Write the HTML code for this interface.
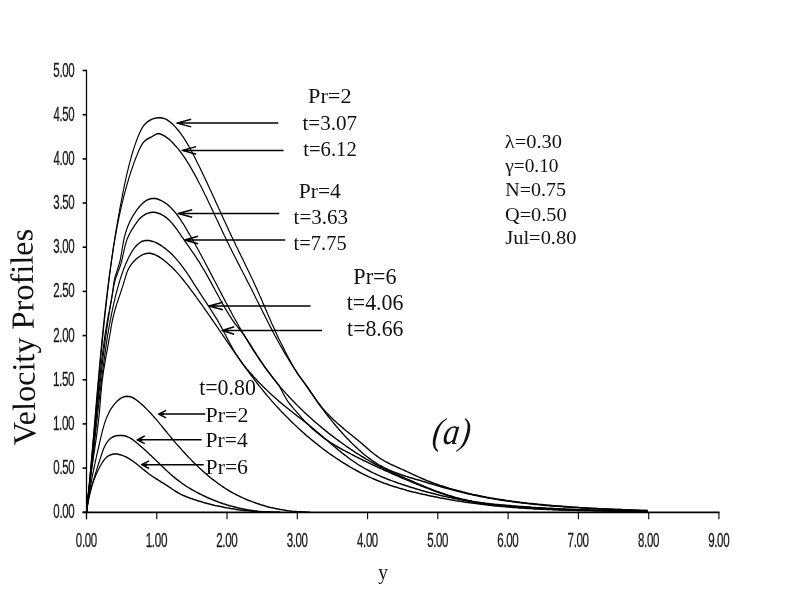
<!DOCTYPE html>
<html><head><meta charset="utf-8"><title>Velocity Profiles</title>
<style>html,body{margin:0;padding:0;background:#fff;}body{width:789px;height:613px;overflow:hidden;}svg{display:block;will-change:transform;}</style>
</head><body>
<svg width="789" height="613" viewBox="0 0 789 613">
<rect width="789" height="613" fill="#fff"/>
<g stroke="#000" stroke-width="1.7" fill="none"><line stroke-width="1.25" x1="86.5" y1="69.7" x2="86.5" y2="519.2"/><line x1="82.6" y1="512.3" x2="719.5" y2="512.3"/><line stroke-width="1.6" x1="82.6" y1="512.3" x2="86.5" y2="512.3"/><line stroke-width="1.6" x1="82.6" y1="468.1" x2="86.5" y2="468.1"/><line stroke-width="1.6" x1="82.6" y1="423.9" x2="86.5" y2="423.9"/><line stroke-width="1.6" x1="82.6" y1="379.8" x2="86.5" y2="379.8"/><line stroke-width="1.6" x1="82.6" y1="335.6" x2="86.5" y2="335.6"/><line stroke-width="1.6" x1="82.6" y1="291.4" x2="86.5" y2="291.4"/><line stroke-width="1.6" x1="82.6" y1="247.2" x2="86.5" y2="247.2"/><line stroke-width="1.6" x1="82.6" y1="203.0" x2="86.5" y2="203.0"/><line stroke-width="1.6" x1="82.6" y1="158.9" x2="86.5" y2="158.9"/><line stroke-width="1.6" x1="82.6" y1="114.7" x2="86.5" y2="114.7"/><line stroke-width="1.6" x1="82.6" y1="70.5" x2="86.5" y2="70.5"/><line stroke-width="1.1" x1="86.5" y1="512.3" x2="86.5" y2="519.2"/><line stroke-width="1.1" x1="156.8" y1="512.3" x2="156.8" y2="519.2"/><line stroke-width="1.1" x1="227.0" y1="512.3" x2="227.0" y2="519.2"/><line stroke-width="1.1" x1="297.3" y1="512.3" x2="297.3" y2="519.2"/><line stroke-width="1.1" x1="367.6" y1="512.3" x2="367.6" y2="519.2"/><line stroke-width="1.1" x1="437.8" y1="512.3" x2="437.8" y2="519.2"/><line stroke-width="1.1" x1="508.1" y1="512.3" x2="508.1" y2="519.2"/><line stroke-width="1.1" x1="578.4" y1="512.3" x2="578.4" y2="519.2"/><line stroke-width="1.1" x1="648.7" y1="512.3" x2="648.7" y2="519.2"/><line stroke-width="1.1" x1="718.9" y1="512.3" x2="718.9" y2="519.2"/></g>
<g font-family="Liberation Sans, sans-serif" font-size="19.3" fill="#1a1a1a" stroke="#1a1a1a" stroke-width="0.3" letter-spacing="-0.6"><text transform="translate(53.35,518.30) scale(0.596,1)">0.00</text><text transform="translate(53.35,474.12) scale(0.596,1)">0.50</text><text transform="translate(52.89,429.94) scale(0.609,1)">1.00</text><text transform="translate(52.89,385.76) scale(0.609,1)">1.50</text><text transform="translate(53.20,341.58) scale(0.600,1)">2.00</text><text transform="translate(53.20,297.40) scale(0.600,1)">2.50</text><text transform="translate(53.35,253.22) scale(0.596,1)">3.00</text><text transform="translate(53.35,209.04) scale(0.596,1)">3.50</text><text transform="translate(53.50,164.86) scale(0.591,1)">4.00</text><text transform="translate(53.50,120.68) scale(0.591,1)">4.50</text><text transform="translate(53.35,76.50) scale(0.596,1)">5.00</text><text transform="translate(75.85,546.6) scale(0.596,1)">0.00</text><text transform="translate(145.66,546.6) scale(0.609,1)">1.00</text><text transform="translate(216.24,546.6) scale(0.600,1)">2.00</text><text transform="translate(286.66,546.6) scale(0.596,1)">3.00</text><text transform="translate(357.08,546.6) scale(0.591,1)">4.00</text><text transform="translate(427.20,546.6) scale(0.596,1)">5.00</text><text transform="translate(497.32,546.6) scale(0.600,1)">6.00</text><text transform="translate(567.59,546.6) scale(0.600,1)">7.00</text><text transform="translate(638.01,546.6) scale(0.596,1)">8.00</text><text transform="translate(708.13,546.6) scale(0.600,1)">9.00</text></g>
<g transform="scale(0.75,1)" stroke="#000" stroke-width="1.5" fill="none" stroke-linejoin="round"><path d="M115.3 512.3L115.6 510.3 115.9 508.3 116.1 506.3 116.4 504.3 116.7 502.4 116.9 500.4 117.2 498.4 117.4 496.4 117.7 494.4 118.0 492.4 118.2 490.4 118.5 488.4 118.7 486.5 119.0 484.5 119.2 482.5 119.5 480.5 119.7 478.5 119.9 476.5 120.2 474.5 120.4 472.5 120.7 470.5 120.9 468.6 121.1 466.6 121.4 464.6 121.6 462.6 121.8 460.6 122.1 458.6 122.3 456.6 122.5 454.6 122.8 452.6 123.0 450.7 123.2 448.7 123.4 446.7 123.7 444.7 123.9 442.7 124.1 440.7 124.4 438.7 124.6 436.7 124.8 434.7 125.0 432.7 125.3 430.8 125.5 428.8 125.7 426.8 125.9 424.8 126.2 422.8 126.4 420.8 126.6 418.8 126.8 416.8 127.0 414.8 127.3 412.9 127.5 410.9 127.7 408.9 127.9 406.9 128.2 404.9 128.4 402.9 128.6 400.9 128.8 398.9 129.1 396.9 129.3 395.0 129.5 393.0 129.8 391.0 130.0 389.0 130.2 387.0 130.5 385.0 130.7 383.0 130.9 381.0 131.2 379.1 131.4 377.1 131.6 375.1 131.9 373.1 132.1 371.1 132.3 369.1 132.6 367.1 132.8 365.1 133.1 363.1 133.3 361.2 133.6 359.2 133.8 357.2 134.1 355.2 134.3 353.2 134.6 351.2 134.8 349.2 135.1 347.3 135.3 345.3 135.6 343.3 135.8 341.3 136.1 339.3 136.4 337.3 136.6 335.3 136.9 333.3 137.2 331.4 137.5 329.4 137.7 327.4 138.0 325.4 138.3 323.4 138.6 321.4 138.9 319.5 139.1 317.5 139.4 315.5 139.7 313.5 140.0 311.5 140.3 309.5 140.6 307.5 140.9 305.6 141.2 303.6 141.5 301.6 141.8 299.6 142.1 297.6 142.5 295.6 142.8 293.7 143.1 291.7 143.4 289.7 143.8 287.7 144.1 285.7 144.4 283.8 144.8 281.8 145.1 279.8 145.4 277.8 145.8 275.8 146.1 273.8 146.5 271.9 146.9 269.9 147.2 267.9 147.6 265.9 148.0 263.9 148.3 262.0 148.7 260.0 149.1 258.0 149.5 256.0 149.9 254.1 150.2 252.1 150.6 250.1 151.0 248.1 151.4 246.2 151.8 244.2 152.3 242.2 152.7 240.2 153.1 238.3 153.5 236.3 153.9 234.3 154.4 232.3 154.8 230.4 155.2 228.4 155.7 226.4 156.1 224.5 156.6 222.5 157.0 220.5 157.5 218.6 157.9 216.6 158.4 214.6 158.9 212.7 159.3 210.7 159.8 208.7 160.3 206.8 160.8 204.8 161.3 202.9 161.8 200.9 162.3 199.0 162.8 197.0 163.3 195.0 163.8 193.1 164.3 191.1 164.9 189.2 165.4 187.2 165.9 185.3 166.5 183.3 167.0 181.4 167.6 179.4 168.2 177.5 168.7 175.5 169.3 173.6 169.9 171.7 170.6 169.7 171.2 167.8 171.8 165.9 172.5 163.9 173.2 162.0 173.9 160.1 174.6 158.1 175.3 156.2 176.0 154.3 176.8 152.4 177.6 150.4 178.4 148.5 179.2 146.6 180.1 144.7 181.0 142.8 181.9 140.9 182.8 139.0 183.8 137.2 184.8 135.3 185.9 133.5 187.0 131.7 188.1 129.9 189.3 128.2 190.7 126.6 192.2 125.0 194.0 123.6 196.0 122.2 198.2 121.0 200.5 120.0 203.0 119.1 205.6 118.4 208.3 117.9 211.0 117.7 213.6 117.7 216.1 117.9 218.5 118.4 220.9 119.1 223.1 120.0 225.3 121.1 227.4 122.3 229.4 123.6 231.3 125.0 233.2 126.5 235.0 128.0 236.8 129.6 238.5 131.1 240.1 132.7 241.7 134.3 243.2 136.0 244.7 137.6 246.2 139.3 247.6 141.0 249.0 142.7 250.3 144.4 251.7 146.1 253.0 147.9 254.2 149.6 255.5 151.4 256.7 153.2 258.0 154.9 259.2 156.7 260.4 158.5 261.6 160.3 262.8 162.1 263.9 163.8 265.1 165.6 266.3 167.4 267.4 169.2 268.6 171.0 269.8 172.8 270.9 174.6 272.0 176.4 273.2 178.2 274.3 180.0 275.5 181.8 276.6 183.6 277.7 185.5 278.8 187.3 279.9 189.1 281.1 190.9 282.2 192.7 283.3 194.5 284.4 196.3 285.5 198.1 286.6 200.0 287.7 201.8 288.8 203.6 289.9 205.4 291.0 207.2 292.1 209.1 293.2 210.9 294.3 212.7 295.4 214.5 296.5 216.3 297.6 218.1 298.7 220.0 299.9 221.8 301.0 223.6 302.1 225.4 303.2 227.2 304.3 229.0 305.4 230.8 306.6 232.6 307.7 234.5 308.8 236.3 310.0 238.1 311.1 239.9 312.2 241.7 313.4 243.5 314.5 245.3 315.7 247.1 316.9 248.9 318.0 250.7 319.2 252.5 320.4 254.3 321.5 256.1 322.7 257.8 323.9 259.6 325.0 261.4 326.2 263.2 327.3 265.0 328.5 266.8 329.7 268.6 330.8 270.4 332.0 272.2 333.1 274.0 334.3 275.8 335.4 277.6 336.6 279.4 337.7 281.2 338.8 283.0 339.9 284.8 341.0 286.7 342.2 288.5 343.3 290.3 344.3 292.1 345.4 293.9 346.5 295.8 347.6 297.6 348.6 299.4 349.7 301.3 350.7 303.1 351.8 304.9 352.8 306.8 353.9 308.6 354.9 310.4 356.0 312.3 357.0 314.1 358.1 315.9 359.1 317.8 360.2 319.6 361.2 321.4 362.3 323.3 363.4 325.1 364.5 326.9 365.6 328.7 366.7 330.5 367.8 332.3 368.9 334.2 370.0 336.0 371.2 337.8 372.3 339.6 373.5 341.4 374.7 343.1 375.9 344.9 377.1 346.7 378.3 348.5 379.5 350.3 380.7 352.1 381.9 353.8 383.1 355.6 384.4 357.4 385.6 359.1 386.9 360.9 388.1 362.7 389.4 364.4 390.7 366.2 392.0 367.9 393.3 369.6 394.7 371.3 396.1 373.0 397.6 374.7 399.1 376.3 400.7 377.9 402.3 379.5 404.0 381.0 405.6 382.6 407.2 384.2 408.8 385.8 410.4 387.4 411.9 389.1 413.5 390.7 414.9 392.4 416.4 394.0 417.9 395.7 419.4 397.3 420.9 399.0 422.4 400.6 424.0 402.2 425.6 403.8 427.2 405.4 428.8 407.0 430.5 408.5 432.3 410.0 434.0 411.5 435.8 413.0 437.7 414.4 439.5 415.9 441.4 417.3 443.3 418.7 445.2 420.1 447.2 421.4 449.2 422.8 451.2 424.1 453.2 425.4 455.2 426.7 457.2 428.0 459.3 429.3 461.3 430.6 463.4 431.8 465.5 433.1 467.5 434.4 469.6 435.6 471.7 436.9 473.7 438.1 475.8 439.4 477.8 440.6 479.9 441.9 481.9 443.2 483.9 444.5 485.9 445.8 488.0 447.2 490.0 448.5 492.0 449.8 494.0 451.1 496.1 452.4 498.2 453.6 500.2 454.8 502.4 456.0 504.5 457.2 506.7 458.3 509.0 459.4 511.2 460.4 513.5 461.4 515.9 462.3 518.3 463.2 520.6 464.1 523.1 465.0 525.5 465.8 527.9 466.6 530.3 467.5 532.8 468.3 535.2 469.1 537.7 469.9 540.1 470.7 542.5 471.6 544.9 472.4 547.4 473.3 549.8 474.1 552.2 475.0 554.6 475.8 557.0 476.6 559.5 477.4 561.9 478.2 564.3 479.0 566.8 479.8 569.2 480.6 571.7 481.3 574.2 482.0 576.7 482.7 579.2 483.4 581.7 484.1 584.2 484.7 586.7 485.4 589.3 486.0 591.8 486.6 594.3 487.2 596.9 487.8 599.4 488.4 602.0 488.9 604.6 489.5 607.1 490.0 609.7 490.6 612.3 491.1 614.8 491.6 617.4 492.1 620.0 492.5 622.6 493.0 625.2 493.5 627.8 493.9 630.4 494.4 633.0 494.8 635.6 495.2 638.2 495.6 640.8 496.0 643.4 496.4 646.0 496.8 648.6 497.2 651.2 497.5 653.8 497.9 656.5 498.2 659.1 498.6 661.7 498.9 664.3 499.2 667.0 499.5 669.6 499.8 672.2 500.1 674.9 500.4 677.5 500.7 680.1 501.0 682.8 501.3 685.4 501.5 688.1 501.8 690.7 502.0 693.3 502.3 696.0 502.5 698.6 502.7 701.3 503.0 703.9 503.2 706.6 503.4 709.2 503.6 711.9 503.8 714.5 504.0 717.2 504.2 719.8 504.4 722.5 504.6 725.2 504.8 727.8 505.0 730.5 505.2 733.1 505.3 735.8 505.5 738.4 505.7 741.1 505.8 743.7 506.0 746.4 506.1 749.0 506.3 751.7 506.5 754.3 506.6 757.0 506.8 759.7 506.9 762.3 507.0 765.0 507.2 767.6 507.3 770.3 507.4 772.9 507.6 775.6 507.7 778.2 507.8 780.9 507.9 783.5 508.1 786.2 508.2 788.9 508.3 791.5 508.4 794.2 508.5 796.8 508.6 799.5 508.7 802.1 508.8 804.8 508.9 807.4 509.0 810.1 509.1 812.8 509.2 815.4 509.3 818.1 509.4 820.7 509.5 823.4 509.6 826.1 509.6 828.7 509.7 831.4 509.8 834.0 509.9 836.7 510.0 839.4 510.0 842.0 510.1 844.7 510.2 847.3 510.2 850.0 510.3 852.7 510.4 855.3 510.4 858.0 510.5 860.7 510.5 863.3 510.6"/><path d="M115.3 512.3L115.6 510.3 115.9 508.3 116.2 506.3 116.4 504.3 116.7 502.3 117.0 500.3 117.2 498.4 117.5 496.4 117.8 494.4 118.0 492.4 118.3 490.4 118.6 488.4 118.8 486.4 119.1 484.4 119.3 482.4 119.6 480.4 119.8 478.4 120.1 476.4 120.3 474.5 120.6 472.5 120.8 470.5 121.1 468.5 121.3 466.5 121.6 464.5 121.8 462.5 122.1 460.5 122.3 458.5 122.5 456.5 122.8 454.5 123.0 452.6 123.3 450.6 123.5 448.6 123.7 446.6 124.0 444.6 124.2 442.6 124.4 440.6 124.7 438.6 124.9 436.6 125.1 434.6 125.4 432.6 125.6 430.7 125.8 428.7 126.1 426.7 126.3 424.7 126.5 422.7 126.8 420.7 127.0 418.7 127.2 416.7 127.5 414.7 127.7 412.7 127.9 410.7 128.1 408.8 128.4 406.8 128.6 404.8 128.8 402.8 129.1 400.8 129.3 398.8 129.5 396.8 129.8 394.8 130.0 392.8 130.2 390.8 130.5 388.9 130.7 386.9 130.9 384.9 131.2 382.9 131.4 380.9 131.7 378.9 131.9 376.9 132.1 374.9 132.4 372.9 132.6 370.9 132.9 369.0 133.1 367.0 133.4 365.0 133.6 363.0 133.8 361.0 134.1 359.0 134.3 357.0 134.6 355.0 134.8 353.0 135.1 351.0 135.3 349.1 135.6 347.1 135.9 345.1 136.1 343.1 136.4 341.1 136.6 339.1 136.9 337.1 137.2 335.1 137.4 333.1 137.7 331.2 138.0 329.2 138.2 327.2 138.5 325.2 138.8 323.2 139.1 321.2 139.3 319.2 139.6 317.2 139.9 315.2 140.2 313.3 140.5 311.3 140.8 309.3 141.1 307.3 141.4 305.3 141.7 303.3 142.0 301.3 142.3 299.3 142.6 297.3 142.9 295.4 143.2 293.4 143.5 291.4 143.8 289.4 144.1 287.4 144.4 285.4 144.8 283.4 145.1 281.4 145.4 279.5 145.8 277.5 146.1 275.5 146.4 273.5 146.8 271.5 147.1 269.5 147.5 267.5 147.8 265.6 148.2 263.6 148.6 261.6 148.9 259.6 149.3 257.6 149.7 255.6 150.1 253.7 150.5 251.7 150.9 249.7 151.3 247.7 151.7 245.7 152.2 243.8 152.6 241.8 153.0 239.8 153.5 237.9 153.9 235.9 154.4 233.9 154.9 232.0 155.3 230.0 155.8 228.0 156.3 226.1 156.8 224.1 157.3 222.1 157.9 220.2 158.4 218.2 158.9 216.3 159.5 214.3 160.1 212.4 160.6 210.4 161.2 208.5 161.8 206.5 162.4 204.6 163.0 202.6 163.7 200.7 164.3 198.8 164.9 196.8 165.6 194.9 166.3 193.0 167.0 191.0 167.7 189.1 168.4 187.2 169.1 185.3 169.8 183.4 170.6 181.5 171.3 179.5 172.1 177.6 172.9 175.7 173.7 173.8 174.5 171.9 175.4 170.0 176.2 168.1 177.1 166.2 177.9 164.4 178.8 162.5 179.8 160.6 180.7 158.7 181.7 156.8 182.7 155.0 183.7 153.1 184.8 151.2 185.9 149.4 187.0 147.5 188.3 145.7 189.6 144.0 191.2 142.4 192.9 141.0 194.9 139.8 197.2 138.7 199.5 137.8 202.0 136.9 204.3 135.9 206.6 134.9 208.9 134.0 211.2 133.6 213.7 134.0 216.2 134.8 218.7 135.8 221.0 136.8 223.2 138.0 225.3 139.2 227.3 140.5 229.2 141.9 231.0 143.3 232.8 144.8 234.6 146.3 236.3 147.8 238.0 149.3 239.6 150.9 241.2 152.5 242.8 154.1 244.3 155.7 245.8 157.3 247.3 159.0 248.8 160.7 250.2 162.4 251.6 164.1 253.0 165.8 254.3 167.5 255.7 169.2 257.0 171.0 258.3 172.7 259.6 174.5 260.9 176.3 262.1 178.0 263.4 179.8 264.6 181.6 265.8 183.4 267.1 185.1 268.3 186.9 269.5 188.7 270.7 190.5 271.9 192.3 273.0 194.1 274.2 195.9 275.4 197.7 276.5 199.5 277.7 201.3 278.8 203.1 280.0 204.9 281.1 206.7 282.3 208.5 283.4 210.3 284.5 212.1 285.6 213.9 286.8 215.8 287.9 217.6 289.0 219.4 290.2 221.2 291.3 223.0 292.4 224.8 293.5 226.6 294.7 228.4 295.8 230.2 296.9 232.0 298.1 233.8 299.2 235.6 300.4 237.4 301.5 239.2 302.7 241.0 303.9 242.8 305.1 244.6 306.2 246.4 307.4 248.2 308.6 250.0 309.8 251.8 311.0 253.6 312.2 255.3 313.4 257.1 314.6 258.9 315.8 260.7 317.0 262.5 318.3 264.2 319.5 266.0 320.7 267.8 321.9 269.6 323.1 271.3 324.3 273.1 325.6 274.9 326.8 276.7 328.0 278.5 329.2 280.2 330.4 282.0 331.6 283.8 332.9 285.6 334.1 287.4 335.3 289.2 336.5 290.9 337.7 292.7 338.9 294.5 340.1 296.3 341.2 298.1 342.4 299.9 343.6 301.7 344.8 303.5 346.0 305.3 347.2 307.1 348.4 308.9 349.6 310.7 350.8 312.5 352.0 314.2 353.2 316.0 354.4 317.8 355.6 319.6 356.8 321.4 358.0 323.2 359.2 325.0 360.4 326.7 361.7 328.5 362.9 330.3 364.1 332.1 365.4 333.8 366.6 335.6 367.9 337.3 369.2 339.1 370.4 340.9 371.7 342.6 373.0 344.4 374.3 346.1 375.6 347.8 377.0 349.6 378.3 351.3 379.6 353.0 381.0 354.7 382.4 356.4 383.7 358.1 385.1 359.8 386.5 361.5 388.0 363.2 389.4 364.9 390.8 366.6 392.3 368.2 393.8 369.9 395.3 371.6 396.7 373.2 398.2 374.9 399.7 376.5 401.3 378.2 402.8 379.8 404.3 381.4 405.8 383.1 407.3 384.7 408.8 386.4 410.4 388.0 411.9 389.7 413.4 391.4 414.9 393.0 416.4 394.7 417.9 396.3 419.5 397.9 421.0 399.6 422.5 401.2 424.1 402.9 425.6 404.5 427.2 406.1 428.8 407.7 430.4 409.3 432.0 410.9 433.6 412.5 435.2 414.1 436.8 415.6 438.5 417.2 440.1 418.7 441.8 420.3 443.4 421.8 445.1 423.4 446.8 424.9 448.5 426.4 450.3 427.9 452.0 429.4 453.8 430.9 455.5 432.4 457.3 433.9 459.1 435.4 461.0 436.8 462.8 438.3 464.7 439.7 466.5 441.2 468.4 442.6 470.3 444.0 472.2 445.4 474.2 446.8 476.2 448.2 478.1 449.6 480.1 450.9 482.2 452.3 484.2 453.6 486.3 454.8 488.4 456.1 490.5 457.3 492.6 458.5 494.8 459.7 496.9 460.8 499.1 461.9 501.4 463.0 503.6 464.1 505.9 465.1 508.2 466.0 510.5 467.0 512.9 467.9 515.3 468.7 517.7 469.6 520.1 470.4 522.5 471.2 525.0 471.9 527.4 472.6 529.9 473.3 532.4 474.0 534.9 474.7 537.5 475.3 540.0 475.9 542.5 476.6 545.1 477.2 547.6 477.7 550.2 478.3 552.8 478.9 555.4 479.5 557.9 480.0 560.5 480.6 563.1 481.2 565.7 481.7 568.2 482.3 570.8 482.9 573.4 483.4 575.9 484.0 578.5 484.6 581.1 485.2 583.6 485.7 586.2 486.3 588.7 486.9 591.3 487.4 593.9 488.0 596.4 488.5 599.0 489.1 601.6 489.6 604.1 490.1 606.7 490.6 609.3 491.1 611.9 491.6 614.5 492.1 617.0 492.6 619.6 493.0 622.2 493.5 624.8 493.9 627.4 494.3 630.0 494.8 632.6 495.2 635.2 495.6 637.8 496.0 640.4 496.4 643.0 496.8 645.6 497.1 648.3 497.5 650.9 497.9 653.5 498.2 656.1 498.6 658.7 498.9 661.4 499.2 664.0 499.6 666.6 499.9 669.3 500.2 671.9 500.5 674.5 500.8 677.2 501.1 679.8 501.3 682.4 501.6 685.1 501.9 687.7 502.1 690.4 502.4 693.0 502.6 695.6 502.9 698.3 503.1 700.9 503.3 703.6 503.6 706.2 503.8 708.9 504.0 711.5 504.2 714.2 504.4 716.9 504.6 719.5 504.8 722.2 505.0 724.8 505.2 727.5 505.4 730.2 505.5 732.8 505.7 735.5 505.9 738.1 506.0 740.8 506.2 743.5 506.3 746.1 506.5 748.8 506.6 751.5 506.8 754.1 506.9 756.8 507.0 759.5 507.2 762.1 507.3 764.8 507.4 767.5 507.5 770.1 507.6 772.8 507.7 775.5 507.9 778.1 508.0 780.8 508.1 783.5 508.2 786.1 508.3 788.8 508.4 791.5 508.5 794.1 508.6 796.8 508.7 799.5 508.7 802.2 508.8 804.8 508.9 807.5 509.0 810.2 509.1 812.8 509.2 815.5 509.2 818.1 509.3 820.8 509.4 823.5 509.5 826.1 509.6 828.8 509.6 831.5 509.7 834.1 509.8 836.8 509.9 839.4 509.9 842.1 510.0 844.8 510.1 847.4 510.2 850.1 510.2 852.7 510.3 855.4 510.4 858.0 510.4 860.7 510.5 863.3 510.6"/><path d="M115.3 512.3L115.6 510.3 115.9 508.3 116.2 506.3 116.5 504.4 116.8 502.4 117.1 500.4 117.4 498.4 117.6 496.4 117.9 494.4 118.2 492.4 118.5 490.5 118.7 488.5 119.0 486.5 119.3 484.5 119.5 482.5 119.8 480.5 120.1 478.5 120.3 476.5 120.6 474.5 120.9 472.6 121.1 470.6 121.4 468.6 121.6 466.6 121.9 464.6 122.1 462.6 122.4 460.6 122.6 458.6 122.9 456.7 123.1 454.7 123.4 452.7 123.6 450.7 123.9 448.7 124.1 446.7 124.4 444.7 124.6 442.7 124.9 440.7 125.1 438.7 125.4 436.8 125.6 434.8 125.9 432.8 126.1 430.8 126.4 428.8 126.6 426.8 126.9 424.8 127.1 422.8 127.4 420.8 127.6 418.9 127.9 416.9 128.1 414.9 128.4 412.9 128.6 410.9 128.9 408.9 129.1 406.9 129.4 404.9 129.7 403.0 129.9 401.0 130.2 399.0 130.4 397.0 130.7 395.0 131.0 393.0 131.2 391.0 131.5 389.0 131.8 387.0 132.1 385.1 132.3 383.1 132.6 381.1 132.9 379.1 133.2 377.1 133.5 375.1 133.8 373.1 134.0 371.2 134.3 369.2 134.6 367.2 134.9 365.2 135.2 363.2 135.5 361.2 135.8 359.2 136.1 357.3 136.5 355.3 136.8 353.3 137.1 351.3 137.4 349.3 137.8 347.3 138.1 345.4 138.5 343.4 138.8 341.4 139.2 339.4 139.5 337.5 139.9 335.5 140.3 333.5 140.7 331.5 141.1 329.6 141.6 327.6 142.0 325.6 142.5 323.7 142.9 321.7 143.4 319.7 143.9 317.8 144.4 315.8 144.9 313.9 145.5 311.9 146.0 309.9 146.5 308.0 147.0 306.0 147.5 304.1 148.0 302.1 148.5 300.1 149.0 298.2 149.4 296.2 149.8 294.2 150.2 292.2 150.6 290.2 150.9 288.3 151.2 286.3 151.5 284.3 151.9 282.3 152.4 280.3 153.0 278.4 153.6 276.5 154.4 274.6 155.2 272.7 156.1 270.8 156.9 268.9 157.7 267.0 158.5 265.1 159.2 263.2 159.9 261.2 160.5 259.3 161.0 257.3 161.5 255.3 161.9 253.4 162.4 251.4 162.8 249.4 163.2 247.4 163.7 245.4 164.1 243.5 164.6 241.5 165.2 239.6 165.7 237.6 166.4 235.7 167.1 233.8 167.8 231.9 168.6 230.1 169.5 228.2 170.4 226.4 171.4 224.6 172.5 222.7 173.6 220.9 174.8 219.2 176.1 217.4 177.4 215.6 178.9 213.9 180.4 212.2 181.9 210.5 183.6 208.8 185.4 207.1 187.2 205.6 189.1 204.1 191.1 202.7 193.2 201.5 195.3 200.4 197.6 199.5 199.9 198.9 202.3 198.5 204.7 198.4 207.3 198.6 209.9 199.1 212.4 199.7 215.0 200.6 217.5 201.6 219.8 202.7 222.1 203.9 224.2 205.2 226.2 206.5 228.1 207.9 229.9 209.3 231.7 210.8 233.4 212.3 235.0 213.8 236.6 215.4 238.2 217.0 239.7 218.6 241.2 220.2 242.6 221.9 244.1 223.6 245.5 225.3 246.9 227.0 248.2 228.7 249.6 230.4 250.9 232.2 252.3 233.9 253.6 235.6 254.9 237.4 256.3 239.1 257.6 240.8 258.9 242.6 260.2 244.3 261.5 246.1 262.8 247.8 264.1 249.6 265.4 251.3 266.6 253.1 267.9 254.8 269.2 256.6 270.4 258.4 271.7 260.1 272.9 261.9 274.2 263.7 275.4 265.4 276.7 267.2 277.9 269.0 279.1 270.7 280.4 272.5 281.6 274.3 282.8 276.0 284.1 277.8 285.3 279.6 286.5 281.4 287.8 283.1 289.0 284.9 290.2 286.7 291.4 288.4 292.7 290.2 293.9 292.0 295.1 293.7 296.4 295.5 297.6 297.3 298.8 299.0 300.1 300.8 301.3 302.6 302.6 304.3 303.8 306.1 305.1 307.8 306.3 309.6 307.6 311.3 308.9 313.1 310.1 314.9 311.4 316.6 312.7 318.4 314.0 320.1 315.3 321.8 316.6 323.6 317.9 325.3 319.2 327.1 320.5 328.8 321.8 330.5 323.2 332.3 324.5 334.0 325.9 335.7 327.2 337.4 328.6 339.1 330.0 340.9 331.4 342.6 332.8 344.3 334.2 346.0 335.6 347.7 337.0 349.4 338.5 351.1 339.9 352.7 341.4 354.4 342.9 356.1 344.3 357.7 345.8 359.4 347.3 361.1 348.9 362.7 350.4 364.3 351.9 366.0 353.5 367.6 355.1 369.2 356.6 370.8 358.2 372.4 359.8 374.0 361.5 375.6 363.1 377.2 364.7 378.8 366.4 380.3 368.1 381.9 369.8 383.4 371.5 384.9 373.2 386.5 374.9 388.0 376.7 389.5 378.4 391.0 380.2 392.5 381.9 394.0 383.7 395.4 385.5 396.9 387.4 398.4 389.2 399.8 391.0 401.2 392.9 402.7 394.7 404.1 396.6 405.5 398.5 406.9 400.4 408.3 402.3 409.7 404.2 411.1 406.1 412.5 408.1 413.8 410.0 415.2 412.0 416.5 414.0 417.9 415.9 419.2 417.9 420.5 419.9 421.8 422.0 423.1 424.0 424.4 426.0 425.7 428.1 427.0 430.1 428.3 432.2 429.5 434.3 430.8 436.3 432.0 438.4 433.3 440.5 434.5 442.6 435.7 444.8 437.0 446.9 438.2 449.0 439.4 451.2 440.5 453.3 441.7 455.5 442.9 457.7 444.1 459.8 445.2 462.0 446.4 464.2 447.5 466.4 448.6 468.6 449.8 470.9 450.9 473.1 452.0 475.3 453.1 477.6 454.1 479.8 455.2 482.1 456.3 484.4 457.3 486.7 458.3 488.9 459.4 491.2 460.4 493.6 461.4 495.9 462.3 498.2 463.3 500.5 464.3 502.9 465.2 505.3 466.1 507.6 467.0 510.0 467.9 512.4 468.8 514.8 469.6 517.2 470.5 519.6 471.3 522.0 472.1 524.4 472.9 526.9 473.7 529.3 474.5 531.7 475.4 534.2 476.2 536.6 477.0 539.0 477.8 541.5 478.6 543.9 479.4 546.4 480.2 548.8 481.0 551.2 481.8 553.7 482.6 556.1 483.4 558.6 484.2 561.1 484.9 563.5 485.7 566.0 486.5 568.5 487.2 570.9 488.0 573.4 488.7 575.9 489.5 578.4 490.2 580.9 490.9 583.4 491.6 585.9 492.3 588.4 493.0 590.9 493.6 593.4 494.3 595.9 494.9 598.4 495.5 601.0 496.1 603.5 496.6 606.1 497.2 608.6 497.7 611.2 498.2 613.8 498.7 616.4 499.2 618.9 499.6 621.5 500.1 624.1 500.5 626.7 500.8 629.4 501.2 632.0 501.5 634.6 501.9 637.2 502.2 639.9 502.5 642.5 502.8 645.2 503.0 647.8 503.3 650.5 503.5 653.1 503.8 655.8 504.0 658.4 504.2 661.1 504.4 663.8 504.6 666.4 504.8 669.1 505.0 671.8 505.1 674.4 505.3 677.1 505.5 679.8 505.6 682.4 505.8 685.1 505.9 687.8 506.1 690.4 506.2 693.1 506.4 695.8 506.5 698.4 506.7 701.1 506.8 703.7 507.0 706.4 507.1 709.0 507.3 711.7 507.4 714.3 507.6 717.0 507.7 719.6 507.8 722.3 508.0 724.9 508.1 727.6 508.3 730.2 508.4 732.9 508.5 735.5 508.6 738.2 508.7 740.8 508.8 743.5 509.0 746.1 509.1 748.8 509.2 751.5 509.2 754.1 509.3 756.8 509.4 759.4 509.5 762.1 509.6 764.8 509.6 767.4 509.7 770.1 509.8 772.7 509.8 775.4 509.9 778.1 510.0 780.7 510.0 783.4 510.1 786.1 510.1 788.7 510.2 791.4 510.2 794.1 510.3 796.7 510.3 799.4 510.3 802.1 510.4 804.7 510.4 807.4 510.4 810.1 510.5 812.7 510.5 815.4 510.5 818.1 510.6 820.7 510.6 823.4 510.6 826.1 510.7 828.7 510.7 831.4 510.7 834.1 510.7 836.7 510.8 839.4 510.8 842.1 510.8 844.7 510.9 847.4 510.9 850.0 510.9 852.7 511.0 855.4 511.0 858.0 511.0 860.7 511.1 863.3 511.1"/><path d="M115.3 512.3L115.6 510.3 116.0 508.3 116.3 506.3 116.6 504.4 116.9 502.4 117.2 500.4 117.5 498.4 117.8 496.4 118.0 494.4 118.3 492.5 118.6 490.5 118.9 488.5 119.2 486.5 119.5 484.5 119.8 482.5 120.0 480.5 120.3 478.5 120.6 476.6 120.9 474.6 121.2 472.6 121.4 470.6 121.7 468.6 122.0 466.6 122.2 464.6 122.5 462.6 122.8 460.7 123.1 458.7 123.3 456.7 123.6 454.7 123.9 452.7 124.1 450.7 124.4 448.7 124.7 446.7 124.9 444.8 125.2 442.8 125.4 440.8 125.7 438.8 126.0 436.8 126.2 434.8 126.5 432.8 126.8 430.8 127.0 428.9 127.3 426.9 127.6 424.9 127.8 422.9 128.1 420.9 128.4 418.9 128.6 416.9 128.9 414.9 129.2 413.0 129.5 411.0 129.7 409.0 130.0 407.0 130.3 405.0 130.6 403.0 130.8 401.0 131.1 399.0 131.4 397.1 131.7 395.1 132.0 393.1 132.2 391.1 132.5 389.1 132.8 387.1 133.1 385.1 133.4 383.2 133.7 381.2 134.0 379.2 134.3 377.2 134.6 375.2 134.9 373.2 135.2 371.3 135.5 369.3 135.8 367.3 136.1 365.3 136.4 363.3 136.8 361.3 137.1 359.4 137.4 357.4 137.7 355.4 138.1 353.4 138.4 351.4 138.7 349.4 139.1 347.5 139.4 345.5 139.8 343.5 140.1 341.5 140.5 339.5 140.8 337.6 141.2 335.6 141.6 333.6 141.9 331.6 142.3 329.7 142.7 327.7 143.1 325.7 143.4 323.7 143.8 321.8 144.2 319.8 144.6 317.8 145.0 315.8 145.4 313.9 145.8 311.9 146.3 309.9 146.7 307.9 147.1 306.0 147.5 304.0 148.0 302.0 148.4 300.0 148.8 298.1 149.3 296.1 149.8 294.1 150.2 292.2 150.7 290.2 151.1 288.2 151.6 286.3 152.2 284.3 152.8 282.4 153.4 280.4 154.2 278.5 155.0 276.6 155.9 274.8 156.9 272.9 157.8 271.0 158.8 269.2 159.7 267.3 160.5 265.4 161.3 263.5 162.0 261.6 162.7 259.6 163.3 257.7 163.8 255.7 164.4 253.8 164.9 251.8 165.5 249.9 166.1 247.9 166.7 246.0 167.4 244.1 168.1 242.2 169.0 240.3 169.9 238.4 171.0 236.6 172.1 234.8 173.3 233.1 174.6 231.3 175.9 229.6 177.3 227.9 178.8 226.2 180.3 224.5 181.8 222.9 183.4 221.2 185.1 219.7 186.9 218.2 188.9 216.8 191.0 215.6 193.3 214.5 195.7 213.6 198.3 212.9 200.8 212.5 203.4 212.3 206.1 212.3 208.7 212.7 211.3 213.2 213.8 214.0 216.1 214.9 218.4 215.9 220.6 217.0 222.6 218.2 224.6 219.5 226.5 220.8 228.3 222.3 230.0 223.8 231.7 225.4 233.4 227.0 235.0 228.6 236.6 230.3 238.1 231.9 239.7 233.6 241.2 235.3 242.7 236.9 244.3 238.6 245.8 240.3 247.3 241.9 248.9 243.5 250.4 245.2 251.9 246.8 253.4 248.4 254.9 250.1 256.4 251.7 257.9 253.3 259.4 255.0 260.8 256.6 262.3 258.3 263.7 259.9 265.2 261.6 266.6 263.3 267.9 265.0 269.3 266.7 270.7 268.4 272.0 270.1 273.4 271.8 274.7 273.5 276.0 275.3 277.3 277.0 278.6 278.8 279.9 280.5 281.2 282.3 282.4 284.0 283.7 285.8 285.0 287.5 286.3 289.3 287.5 291.1 288.8 292.8 290.1 294.6 291.4 296.4 292.7 298.1 293.9 299.9 295.2 301.6 296.5 303.4 297.9 305.1 299.2 306.9 300.5 308.6 301.8 310.3 303.2 312.1 304.6 313.8 306.0 315.5 307.4 317.1 308.8 318.8 310.3 320.4 311.9 322.1 313.4 323.7 315.0 325.3 316.7 326.8 318.4 328.4 320.1 329.9 321.7 331.5 323.4 333.0 325.0 334.6 326.5 336.3 328.0 337.9 329.5 339.6 330.9 341.2 332.4 342.9 333.8 344.6 335.2 346.3 336.6 348.0 338.0 349.7 339.4 351.4 340.9 353.1 342.3 354.8 343.7 356.5 345.2 358.1 346.7 359.8 348.2 361.4 349.7 363.1 351.2 364.7 352.7 366.4 354.2 368.0 355.8 369.6 357.4 371.2 359.0 372.8 360.6 374.4 362.2 376.0 363.9 377.6 365.5 379.2 367.1 380.8 368.7 382.4 370.3 384.0 371.8 385.6 373.2 387.3 374.5 389.1 375.8 390.8 377.0 392.6 378.2 394.3 379.5 396.1 380.8 397.8 382.2 399.5 383.7 401.2 385.2 402.8 386.9 404.4 388.5 405.9 390.3 407.5 392.0 409.0 393.8 410.5 395.5 412.0 397.3 413.5 399.0 415.0 400.8 416.5 402.5 418.0 404.3 419.5 406.1 421.0 407.9 422.4 409.8 423.8 411.7 425.2 413.6 426.6 415.5 428.0 417.5 429.3 419.5 430.6 421.5 431.9 423.6 433.2 425.7 434.4 427.8 435.7 429.9 436.9 432.0 438.1 434.2 439.2 436.4 440.4 438.6 441.5 440.9 442.6 443.1 443.6 445.4 444.7 447.7 445.7 450.0 446.7 452.3 447.7 454.6 448.7 457.0 449.7 459.3 450.6 461.7 451.6 464.0 452.5 466.4 453.4 468.7 454.4 471.1 455.3 473.5 456.2 475.8 457.1 478.2 458.0 480.6 458.9 483.0 459.8 485.4 460.7 487.8 461.5 490.1 462.4 492.5 463.3 494.9 464.1 497.4 465.0 499.8 465.8 502.2 466.6 504.6 467.5 507.0 468.3 509.4 469.1 511.8 470.0 514.3 470.8 516.7 471.6 519.1 472.4 521.6 473.2 524.0 474.0 526.4 474.8 528.9 475.6 531.3 476.4 533.8 477.2 536.2 478.0 538.7 478.8 541.1 479.6 543.6 480.3 546.1 481.1 548.5 481.9 551.0 482.7 553.4 483.4 555.9 484.2 558.4 484.9 560.9 485.7 563.4 486.4 565.8 487.2 568.3 487.9 570.8 488.6 573.3 489.3 575.8 490.0 578.3 490.7 580.8 491.4 583.3 492.0 585.9 492.7 588.4 493.3 590.9 493.9 593.4 494.5 596.0 495.1 598.5 495.7 601.1 496.3 603.6 496.9 606.2 497.4 608.7 497.9 611.3 498.4 613.9 498.9 616.4 499.4 619.0 499.8 621.6 500.3 624.2 500.7 626.8 501.1 629.4 501.5 632.0 501.8 634.6 502.2 637.2 502.5 639.9 502.9 642.5 503.2 645.1 503.5 647.7 503.8 650.4 504.0 653.0 504.3 655.7 504.5 658.3 504.8 660.9 505.0 663.6 505.2 666.3 505.4 668.9 505.6 671.6 505.8 674.2 506.0 676.9 506.2 679.6 506.3 682.2 506.5 684.9 506.6 687.6 506.8 690.2 506.9 692.9 507.0 695.6 507.1 698.2 507.3 700.9 507.4 703.6 507.5 706.3 507.6 708.9 507.7 711.6 507.8 714.3 507.9 717.0 508.0 719.6 508.1 722.3 508.1 725.0 508.2 727.6 508.3 730.3 508.4 733.0 508.5 735.7 508.6 738.3 508.6 741.0 508.7 743.6 508.8 746.3 508.9 749.0 509.0 751.6 509.1 754.3 509.2 756.9 509.3 759.6 509.3 762.2 509.4 764.9 509.5 767.6 509.6 770.2 509.7 772.9 509.8 775.5 509.8 778.2 509.9 780.8 510.0 783.5 510.1 786.1 510.2 788.8 510.2 791.4 510.3 794.1 510.4 796.7 510.4 799.4 510.5 802.0 510.6 804.7 510.6 807.3 510.7 810.0 510.7 812.6 510.8 815.3 510.9 817.9 510.9 820.6 510.9 823.3 511.0 825.9 511.0 828.6 511.1 831.2 511.1 833.9 511.1 836.6 511.1 839.2 511.2 841.9 511.2 844.6 511.2 847.3 511.2 849.9 511.2 852.6 511.2 855.3 511.2 858.0 511.1 860.6 511.1 863.3 511.1"/><path d="M115.3 512.3L115.7 510.3 116.0 508.3 116.4 506.3 116.7 504.4 117.0 502.4 117.4 500.4 117.7 498.4 118.0 496.4 118.3 494.4 118.6 492.5 119.0 490.5 119.3 488.5 119.6 486.5 119.9 484.5 120.2 482.5 120.5 480.5 120.8 478.6 121.1 476.6 121.4 474.6 121.7 472.6 122.0 470.6 122.3 468.6 122.6 466.6 122.9 464.7 123.2 462.7 123.5 460.7 123.8 458.7 124.0 456.7 124.3 454.7 124.6 452.7 124.9 450.8 125.2 448.8 125.5 446.8 125.8 444.8 126.0 442.8 126.3 440.8 126.6 438.8 126.9 436.9 127.2 434.9 127.5 432.9 127.7 430.9 128.0 428.9 128.3 426.9 128.6 424.9 128.9 422.9 129.2 421.0 129.5 419.0 129.8 417.0 130.0 415.0 130.3 413.0 130.6 411.0 130.9 409.1 131.2 407.1 131.5 405.1 131.8 403.1 132.1 401.1 132.4 399.1 132.7 397.1 133.0 395.2 133.3 393.2 133.6 391.2 133.9 389.2 134.3 387.2 134.6 385.2 134.9 383.3 135.2 381.3 135.5 379.3 135.9 377.3 136.2 375.3 136.5 373.3 136.8 371.4 137.2 369.4 137.5 367.4 137.9 365.4 138.2 363.4 138.6 361.4 138.9 359.5 139.3 357.5 139.6 355.5 140.0 353.5 140.4 351.5 140.7 349.6 141.1 347.6 141.5 345.6 141.9 343.6 142.3 341.6 142.7 339.7 143.1 337.7 143.5 335.7 143.9 333.7 144.4 331.8 144.8 329.8 145.3 327.8 145.7 325.9 146.2 323.9 146.7 321.9 147.2 320.0 147.7 318.0 148.2 316.0 148.7 314.1 149.2 312.1 149.8 310.2 150.3 308.2 150.9 306.3 151.5 304.3 152.0 302.4 152.7 300.4 153.3 298.5 153.9 296.5 154.5 294.6 155.2 292.7 155.9 290.7 156.6 288.8 157.3 286.9 158.0 285.0 158.7 283.1 159.5 281.1 160.3 279.2 161.1 277.3 161.9 275.4 162.8 273.6 163.7 271.7 164.6 269.8 165.5 267.9 166.5 266.1 167.5 264.2 168.6 262.4 169.7 260.6 170.8 258.7 171.9 256.9 173.2 255.2 174.5 253.4 175.8 251.7 177.3 250.0 178.9 248.3 180.6 246.7 182.4 245.2 184.4 243.8 186.5 242.6 188.7 241.6 191.1 241.0 193.6 240.6 196.1 240.5 198.7 240.6 201.3 240.9 203.9 241.4 206.5 242.1 209.0 243.0 211.4 244.0 213.7 245.0 216.0 246.2 218.2 247.3 220.4 248.5 222.5 249.8 224.5 251.1 226.5 252.4 228.4 253.7 230.3 255.1 232.1 256.6 233.9 258.0 235.6 259.5 237.3 261.0 239.0 262.5 240.7 264.1 242.3 265.7 243.9 267.3 245.4 268.9 247.0 270.5 248.5 272.1 250.0 273.8 251.5 275.4 252.9 277.1 254.4 278.8 255.9 280.5 257.3 282.2 258.7 283.9 260.2 285.6 261.6 287.3 263.1 288.9 264.5 290.6 265.9 292.3 267.4 294.0 268.9 295.7 270.3 297.3 271.8 299.0 273.3 300.7 274.7 302.3 276.2 304.0 277.7 305.7 279.1 307.3 280.6 309.0 282.0 310.7 283.4 312.4 284.8 314.0 286.2 315.7 287.6 317.4 289.0 319.1 290.4 320.8 291.7 322.6 293.0 324.3 294.3 326.0 295.6 327.8 296.8 329.6 298.1 331.3 299.3 333.1 300.6 334.9 301.8 336.7 303.0 338.5 304.3 340.2 305.5 342.0 306.8 343.8 308.0 345.5 309.3 347.3 310.6 349.0 312.0 350.7 313.4 352.5 314.8 354.2 316.2 355.8 317.7 357.5 319.2 359.1 320.7 360.8 322.3 362.4 323.9 364.0 325.6 365.5 327.2 367.1 328.9 368.7 330.6 370.2 332.4 371.7 334.1 373.2 335.9 374.7 337.7 376.2 339.4 377.7 341.3 379.2 343.1 380.6 344.9 382.1 346.8 383.5 348.7 384.9 350.6 386.4 352.5 387.8 354.4 389.2 356.3 390.5 358.2 391.9 360.2 393.3 362.1 394.6 364.1 396.0 366.1 397.3 368.1 398.6 370.1 400.0 372.1 401.3 374.1 402.5 376.2 403.8 378.2 405.1 380.3 406.4 382.3 407.6 384.4 408.9 386.5 410.1 388.6 411.3 390.6 412.6 392.7 413.8 394.8 415.0 396.9 416.3 399.0 417.5 401.1 418.7 403.2 419.9 405.3 421.2 407.3 422.4 409.4 423.7 411.5 424.9 413.6 426.2 415.6 427.4 417.7 428.7 419.8 430.0 421.8 431.3 423.9 432.6 425.9 433.9 427.9 435.2 430.0 436.5 432.0 437.8 434.0 439.1 436.1 440.4 438.1 441.7 440.2 443.0 442.2 444.3 444.3 445.6 446.3 446.9 448.4 448.2 450.4 449.5 452.5 450.8 454.6 452.0 456.7 453.3 458.8 454.5 460.9 455.7 463.0 456.9 465.2 458.1 467.3 459.3 469.5 460.4 471.7 461.6 473.9 462.7 476.1 463.8 478.3 464.9 480.5 465.9 482.8 466.9 485.1 467.9 487.4 468.9 489.7 469.8 492.1 470.8 494.4 471.7 496.8 472.6 499.2 473.4 501.6 474.3 504.0 475.1 506.4 475.9 508.9 476.7 511.3 477.5 513.8 478.2 516.2 479.0 518.7 479.7 521.2 480.4 523.7 481.1 526.2 481.8 528.7 482.5 531.3 483.2 533.8 483.8 536.3 484.5 538.8 485.1 541.4 485.7 543.9 486.3 546.5 486.9 549.0 487.5 551.6 488.1 554.1 488.7 556.7 489.3 559.3 489.8 561.8 490.4 564.4 490.9 567.0 491.5 569.5 492.0 572.1 492.5 574.7 493.0 577.3 493.5 579.9 494.0 582.5 494.5 585.1 495.0 587.7 495.4 590.3 495.9 592.9 496.3 595.5 496.8 598.1 497.2 600.7 497.6 603.3 498.0 605.9 498.4 608.5 498.8 611.1 499.2 613.7 499.6 616.4 499.9 619.0 500.3 621.6 500.7 624.2 501.0 626.8 501.3 629.5 501.7 632.1 502.0 634.7 502.3 637.3 502.6 640.0 502.9 642.6 503.2 645.2 503.5 647.9 503.7 650.5 504.0 653.2 504.3 655.8 504.5 658.4 504.7 661.1 505.0 663.7 505.2 666.4 505.4 669.0 505.7 671.7 505.9 674.3 506.1 677.0 506.3 679.6 506.5 682.3 506.7 684.9 506.8 687.6 507.0 690.2 507.2 692.9 507.4 695.5 507.5 698.2 507.7 700.8 507.8 703.5 508.0 706.1 508.1 708.8 508.2 711.5 508.4 714.1 508.5 716.8 508.6 719.4 508.7 722.1 508.8 724.8 508.9 727.4 509.0 730.1 509.1 732.8 509.2 735.4 509.3 738.1 509.4 740.7 509.5 743.4 509.6 746.1 509.7 748.7 509.7 751.4 509.8 754.1 509.9 756.7 509.9 759.4 510.0 762.1 510.0 764.7 510.1 767.4 510.2 770.1 510.2 772.7 510.2 775.4 510.3 778.1 510.3 780.8 510.4 783.4 510.4 786.1 510.5 788.8 510.5 791.4 510.5 794.1 510.6 796.8 510.6 799.4 510.6 802.1 510.6 804.8 510.7 807.4 510.7 810.1 510.7 812.8 510.7 815.4 510.8 818.1 510.8 820.8 510.8 823.4 510.8 826.1 510.9 828.8 510.9 831.4 510.9 834.1 510.9 836.7 511.0 839.4 511.0 842.1 511.0 844.7 511.0 847.4 511.0 850.0 511.1 852.7 511.1 855.4 511.1 858.0 511.1 860.7 511.2 863.3 511.2"/><path d="M115.3 512.3L115.5 510.3 115.8 508.3 116.0 506.3 116.2 504.3 116.5 502.3 116.7 500.4 117.0 498.4 117.3 496.4 117.6 494.4 117.9 492.4 118.3 490.4 118.6 488.4 118.9 486.5 119.3 484.5 119.6 482.5 120.0 480.5 120.4 478.5 120.7 476.6 121.1 474.6 121.5 472.6 121.9 470.6 122.3 468.6 122.7 466.6 123.1 464.7 123.5 462.7 123.9 460.7 124.3 458.7 124.7 456.7 125.1 454.8 125.5 452.8 125.9 450.8 126.3 448.8 126.7 446.8 127.0 444.9 127.4 442.9 127.8 440.9 128.2 438.9 128.6 436.9 128.9 435.0 129.3 433.0 129.6 431.0 130.0 429.0 130.3 427.0 130.7 425.0 131.0 423.1 131.3 421.1 131.6 419.1 131.9 417.1 132.2 415.1 132.4 413.1 132.7 411.1 132.9 409.2 133.1 407.2 133.4 405.2 133.6 403.2 133.8 401.2 134.0 399.2 134.2 397.2 134.4 395.2 134.6 393.2 134.9 391.2 135.1 389.3 135.4 387.3 135.6 385.3 135.9 383.3 136.2 381.3 136.6 379.3 136.9 377.3 137.3 375.4 137.6 373.4 138.0 371.4 138.4 369.4 138.9 367.4 139.3 365.5 139.7 363.5 140.2 361.5 140.6 359.5 141.1 357.6 141.5 355.6 142.0 353.6 142.5 351.6 143.0 349.7 143.4 347.7 143.9 345.7 144.4 343.8 144.9 341.8 145.3 339.8 145.8 337.9 146.3 335.9 146.7 333.9 147.2 332.0 147.6 330.0 148.0 328.0 148.5 326.1 148.9 324.1 149.4 322.2 149.9 320.2 150.5 318.3 151.1 316.3 151.7 314.4 152.4 312.4 153.1 310.5 153.8 308.6 154.6 306.6 155.4 304.7 156.2 302.8 157.1 300.9 157.9 299.0 158.8 297.1 159.6 295.2 160.5 293.2 161.3 291.3 162.2 289.4 163.0 287.5 163.8 285.7 164.6 283.8 165.4 281.9 166.1 280.0 166.9 278.1 167.6 276.2 168.4 274.4 169.2 272.5 170.2 270.7 171.3 268.9 172.7 267.1 174.1 265.4 175.7 263.7 177.5 262.1 179.4 260.6 181.4 259.1 183.5 257.8 185.7 256.6 188.0 255.6 190.4 254.6 192.8 253.9 195.3 253.4 197.8 253.2 200.3 253.3 202.7 253.7 205.2 254.3 207.7 255.1 210.1 256.0 212.4 257.0 214.7 258.2 216.9 259.4 219.1 260.6 221.2 261.8 223.2 263.1 225.2 264.5 227.2 265.8 229.1 267.2 231.0 268.6 232.9 270.1 234.7 271.5 236.5 273.0 238.3 274.5 240.0 276.0 241.7 277.5 243.4 279.1 245.1 280.6 246.7 282.2 248.4 283.8 250.0 285.3 251.6 286.9 253.2 288.5 254.8 290.1 256.4 291.7 258.0 293.3 259.6 294.9 261.2 296.5 262.7 298.2 264.3 299.8 265.8 301.4 267.4 303.0 268.9 304.6 270.5 306.3 272.0 307.9 273.5 309.5 275.1 311.2 276.6 312.8 278.1 314.5 279.6 316.1 281.1 317.7 282.6 319.4 284.2 321.0 285.7 322.7 287.2 324.3 288.7 326.0 290.2 327.6 291.7 329.3 293.2 330.9 294.7 332.6 296.2 334.2 297.7 335.9 299.2 337.5 300.7 339.2 302.2 340.9 303.7 342.5 305.2 344.2 306.7 345.8 308.2 347.4 309.7 349.1 311.3 350.7 312.8 352.4 314.3 354.0 315.8 355.7 317.4 357.3 318.9 358.9 320.4 360.6 322.0 362.2 323.5 363.8 325.1 365.5 326.7 367.1 328.2 368.7 329.8 370.3 331.4 371.9 333.0 373.5 334.6 375.1 336.2 376.7 337.8 378.3 339.4 379.9 341.1 381.5 342.7 383.1 344.3 384.6 346.0 386.2 347.7 387.8 349.3 389.3 351.0 390.9 352.7 392.4 354.4 393.9 356.1 395.5 357.8 397.0 359.6 398.5 361.3 400.0 363.0 401.5 364.8 403.0 366.6 404.5 368.4 406.0 370.2 407.4 372.0 408.9 373.8 410.4 375.6 411.8 377.5 413.2 379.3 414.7 381.2 416.1 383.1 417.5 385.0 418.9 386.9 420.4 388.8 421.8 390.7 423.1 392.6 424.5 394.6 425.9 396.5 427.3 398.5 428.6 400.4 430.0 402.4 431.3 404.4 432.7 406.4 434.0 408.4 435.3 410.4 436.6 412.5 437.9 414.5 439.2 416.6 440.5 418.6 441.7 420.7 443.0 422.8 444.2 424.9 445.5 427.0 446.7 429.1 447.9 431.2 449.1 433.3 450.3 435.5 451.5 437.6 452.7 439.8 453.8 442.0 455.0 444.1 456.1 446.3 457.2 448.5 458.3 450.8 459.4 453.0 460.5 455.2 461.6 457.5 462.7 459.8 463.7 462.0 464.8 464.3 465.8 466.6 466.9 468.9 467.9 471.2 468.9 473.6 469.8 475.9 470.8 478.3 471.8 480.6 472.7 483.0 473.6 485.4 474.5 487.8 475.4 490.2 476.3 492.6 477.1 495.0 477.9 497.5 478.7 499.9 479.5 502.4 480.3 504.9 481.0 507.3 481.8 509.8 482.5 512.3 483.2 514.8 483.8 517.3 484.5 519.8 485.2 522.4 485.8 524.9 486.4 527.4 487.0 530.0 487.6 532.5 488.2 535.1 488.7 537.7 489.3 540.2 489.8 542.8 490.4 545.4 490.9 548.0 491.4 550.5 491.9 553.1 492.3 555.7 492.8 558.3 493.3 560.9 493.7 563.5 494.2 566.1 494.6 568.7 495.0 571.3 495.5 574.0 495.9 576.6 496.3 579.2 496.7 581.8 497.1 584.4 497.5 587.0 497.9 589.7 498.2 592.3 498.6 594.9 499.0 597.5 499.3 600.2 499.7 602.8 500.0 605.4 500.3 608.0 500.7 610.7 501.0 613.3 501.3 615.9 501.6 618.6 501.9 621.2 502.2 623.9 502.5 626.5 502.8 629.1 503.0 631.8 503.3 634.4 503.6 637.1 503.8 639.7 504.1 642.4 504.3 645.0 504.6 647.7 504.8 650.3 505.0 653.0 505.2 655.6 505.4 658.3 505.7 660.9 505.9 663.6 506.1 666.2 506.2 668.9 506.4 671.5 506.6 674.2 506.8 676.8 507.0 679.5 507.1 682.1 507.3 684.8 507.4 687.5 507.6 690.1 507.7 692.8 507.9 695.4 508.0 698.1 508.1 700.7 508.3 703.4 508.4 706.1 508.5 708.7 508.6 711.4 508.7 714.1 508.9 716.7 509.0 719.4 509.1 722.0 509.2 724.7 509.2 727.4 509.3 730.0 509.4 732.7 509.5 735.4 509.6 738.0 509.7 740.7 509.7 743.4 509.8 746.0 509.9 748.7 509.9 751.4 510.0 754.0 510.1 756.7 510.1 759.4 510.2 762.0 510.2 764.7 510.3 767.4 510.3 770.0 510.4 772.7 510.4 775.4 510.4 778.0 510.5 780.7 510.5 783.4 510.6 786.0 510.6 788.7 510.6 791.4 510.7 794.0 510.7 796.7 510.7 799.4 510.7 802.0 510.8 804.7 510.8 807.4 510.8 810.0 510.8 812.7 510.9 815.4 510.9 818.0 510.9 820.7 510.9 823.4 511.0 826.0 511.0 828.7 511.0 831.4 511.0 834.0 511.0 836.7 511.1 839.4 511.1 842.0 511.1 844.7 511.1 847.4 511.2 850.0 511.2 852.7 511.2 855.3 511.2 858.0 511.2 860.7 511.3 863.3 511.3"/><path d="M115.3 512.3L115.7 510.3 116.0 508.3 116.4 506.3 116.8 504.4 117.1 502.4 117.5 500.4 117.9 498.4 118.4 496.5 118.8 494.5 119.2 492.5 119.7 490.6 120.1 488.6 120.6 486.6 121.0 484.7 121.5 482.7 122.0 480.8 122.5 478.8 123.0 476.9 123.5 474.9 124.0 473.0 124.5 471.0 125.1 469.1 125.6 467.1 126.1 465.2 126.7 463.2 127.2 461.3 127.8 459.3 128.4 457.4 128.9 455.4 129.5 453.5 130.1 451.5 130.7 449.6 131.3 447.7 131.9 445.7 132.5 443.8 133.1 441.8 133.7 439.9 134.3 437.9 134.9 436.0 135.6 434.0 136.2 432.1 136.9 430.1 137.6 428.2 138.3 426.3 139.0 424.4 139.8 422.5 140.7 420.6 141.6 418.7 142.6 416.9 143.7 415.1 144.8 413.3 146.0 411.5 147.3 409.8 148.7 408.1 150.3 406.4 151.9 404.8 153.6 403.3 155.5 401.7 157.5 400.3 159.6 399.0 161.9 397.9 164.3 397.1 166.8 396.5 169.3 396.3 171.8 396.4 174.3 396.8 176.6 397.5 179.0 398.5 181.2 399.6 183.4 400.8 185.5 402.1 187.6 403.5 189.7 404.8 191.7 406.2 193.6 407.6 195.5 409.0 197.4 410.5 199.3 411.9 201.1 413.4 202.9 414.8 204.6 416.3 206.4 417.8 208.1 419.3 209.8 420.8 211.5 422.3 213.1 423.8 214.8 425.3 216.5 426.9 218.1 428.4 219.8 429.9 221.5 431.4 223.1 433.0 224.8 434.5 226.5 436.0 228.2 437.6 229.9 439.1 231.6 440.6 233.4 442.2 235.1 443.7 236.8 445.2 238.6 446.7 240.4 448.2 242.2 449.7 243.9 451.2 245.8 452.7 247.6 454.2 249.4 455.6 251.2 457.1 253.1 458.5 255.0 460.0 256.8 461.4 258.7 462.8 260.6 464.2 262.6 465.6 264.5 467.0 266.4 468.4 268.4 469.7 270.4 471.1 272.4 472.4 274.4 473.7 276.4 475.0 278.4 476.3 280.5 477.6 282.6 478.8 284.7 480.0 286.8 481.2 288.9 482.4 291.0 483.6 293.2 484.7 295.4 485.9 297.6 487.0 299.8 488.1 302.0 489.1 304.3 490.2 306.5 491.2 308.8 492.2 311.1 493.1 313.5 494.1 315.8 495.0 318.2 495.9 320.6 496.8 323.0 497.6 325.4 498.4 327.8 499.2 330.2 500.0 332.7 500.7 335.2 501.4 337.7 502.1 340.2 502.8 342.7 503.5 345.2 504.1 347.7 504.7 350.3 505.3 352.8 505.8 355.4 506.4 358.0 506.9 360.6 507.4 363.2 507.8 365.8 508.3 368.4 508.7 371.0 509.1 373.6 509.4 376.2 509.8 378.9 510.1 381.5 510.4 384.1 510.7 386.8 510.9 389.4 511.2 392.1 511.4 394.7 511.5 397.4 511.7 400.1 511.8 402.7 512.0 405.4 512.1 408.0 512.1 410.7 512.2 413.3 512.2"/><path d="M115.3 512.3L115.7 510.2 116.1 508.2 116.6 506.2 117.1 504.2 117.5 502.2 118.1 500.3 118.6 498.4 119.1 496.4 119.7 494.5 120.3 492.6 120.9 490.7 121.6 488.9 122.2 487.0 122.9 485.1 123.5 483.2 124.2 481.4 125.0 479.5 125.7 477.7 126.4 475.8 127.2 473.9 128.0 472.0 128.7 470.1 129.5 468.3 130.3 466.3 131.2 464.4 132.0 462.5 132.8 460.5 133.7 458.6 134.5 456.6 135.4 454.6 136.3 452.6 137.2 450.6 138.2 448.7 139.3 446.8 140.5 445.0 141.8 443.3 143.2 441.7 144.7 440.3 146.5 439.0 148.3 437.9 150.4 437.0 152.7 436.2 155.1 435.7 157.7 435.5 160.4 435.4 163.1 435.5 165.8 435.8 168.4 436.3 170.9 437.1 173.3 437.9 175.6 439.0 177.9 440.1 180.0 441.4 182.1 442.6 184.1 444.0 186.2 445.3 188.2 446.6 190.2 447.9 192.1 449.2 194.1 450.5 196.0 451.9 197.9 453.2 199.8 454.6 201.8 455.9 203.7 457.3 205.6 458.6 207.4 460.0 209.3 461.4 211.2 462.7 213.1 464.1 215.0 465.5 217.0 466.9 218.9 468.2 220.8 469.6 222.8 471.0 224.7 472.3 226.7 473.6 228.7 475.0 230.7 476.3 232.7 477.5 234.8 478.8 236.8 480.0 238.9 481.2 241.1 482.4 243.2 483.6 245.4 484.7 247.6 485.8 249.8 486.9 252.1 487.9 254.4 489.0 256.6 490.0 259.0 490.9 261.3 491.9 263.6 492.8 266.0 493.7 268.4 494.6 270.7 495.5 273.1 496.3 275.5 497.2 278.0 498.0 280.4 498.8 282.8 499.5 285.3 500.3 287.8 501.0 290.2 501.7 292.7 502.4 295.2 503.0 297.7 503.7 300.3 504.3 302.8 504.9 305.3 505.4 307.9 506.0 310.4 506.5 313.0 507.0 315.5 507.5 318.1 508.0 320.7 508.4 323.3 508.8 325.9 509.2 328.5 509.6 331.1 509.9 333.7 510.2 336.3 510.5 338.9 510.8 341.6 511.0 344.2 511.3 346.8 511.5 349.5 511.7 352.1 511.8 354.8 511.9 357.4 512.1 360.1 512.1 362.7 512.2 365.4 512.2 368.0 512.2 370.7 512.2 373.3 512.2"/><path d="M115.3 512.3L115.6 510.3 116.0 508.3 116.3 506.3 116.7 504.4 117.1 502.4 117.6 500.5 118.1 498.5 118.7 496.6 119.2 494.7 119.9 492.8 120.5 490.9 121.2 489.0 122.0 487.1 122.8 485.2 123.6 483.4 124.5 481.5 125.4 479.7 126.4 477.8 127.4 475.9 128.4 474.1 129.6 472.3 130.7 470.4 131.9 468.6 133.2 466.7 134.5 464.9 135.9 463.1 137.4 461.4 139.0 459.8 140.7 458.3 142.5 457.0 144.5 455.9 146.7 455.1 149.0 454.5 151.4 454.1 153.9 454.0 156.4 454.1 158.9 454.4 161.4 454.9 163.9 455.6 166.4 456.4 168.9 457.3 171.4 458.4 173.8 459.5 176.2 460.7 178.5 461.9 180.7 463.1 182.9 464.4 184.9 465.6 187.0 466.9 189.0 468.1 190.9 469.3 192.9 470.5 194.9 471.7 196.9 472.9 198.9 474.1 201.0 475.2 203.2 476.3 205.4 477.4 207.6 478.5 209.9 479.5 212.2 480.6 214.5 481.7 216.8 482.7 219.1 483.8 221.3 484.9 223.6 486.0 225.8 487.1 228.0 488.2 230.1 489.4 232.3 490.4 234.5 491.5 236.8 492.5 239.0 493.5 241.4 494.4 243.7 495.2 246.2 496.0 248.6 496.8 251.1 497.5 253.6 498.2 256.1 498.8 258.6 499.5 261.1 500.1 263.7 500.7 266.2 501.3 268.7 501.8 271.3 502.4 273.8 502.9 276.4 503.4 279.0 503.9 281.5 504.4 284.1 504.9 286.7 505.4 289.3 505.8 291.8 506.2 294.4 506.6 297.0 507.0 299.6 507.4 302.2 507.8 304.8 508.1 307.4 508.5 310.0 508.8 312.6 509.1 315.3 509.4 317.9 509.7 320.5 509.9 323.1 510.2 325.7 510.4 328.4 510.6 331.0 510.8 333.6 511.0 336.3 511.2 338.9 511.4 341.6 511.5 344.2 511.7 346.8 511.8 349.5 511.9 352.1 512.0 354.8 512.1 357.4 512.1 360.1 512.2 362.7 512.2 365.4 512.3 368.0 512.3 370.7 512.3 373.3 512.3"/></g>
<g stroke="#000" stroke-width="1.5" fill="none"><line x1="177.9" y1="123.1" x2="278.3" y2="123.1"/><polyline fill="none" stroke-linejoin="round" points="191.2,119.3 176.9,123.1 191.2,126.9"/><polygon stroke="none" fill="#000" points="176.3,123.1 182.9,121.6 182.9,124.6"/><line x1="183.2" y1="150.4" x2="283.6" y2="150.4"/><polyline fill="none" stroke-linejoin="round" points="196.2,146.6 182.2,150.4 196.2,154.2"/><polygon stroke="none" fill="#000" points="181.6,150.4 188.2,148.9 188.2,151.9"/><line x1="179.2" y1="213.5" x2="279.3" y2="213.5"/><polyline fill="none" stroke-linejoin="round" points="192.2,209.7 178.2,213.5 192.2,217.3"/><polygon stroke="none" fill="#000" points="177.6,213.5 184.2,212.0 184.2,215.0"/><line x1="185.7" y1="240.0" x2="285.2" y2="240.0"/><polyline fill="none" stroke-linejoin="round" points="198.0,236.2 184.7,240.0 198.0,243.8"/><polygon stroke="none" fill="#000" points="184.1,240.0 190.7,238.5 190.7,241.5"/><line x1="209.9" y1="306.0" x2="310.6" y2="306.0"/><polyline fill="none" stroke-linejoin="round" points="222.9,302.2 208.9,306.0 222.9,309.8"/><polygon stroke="none" fill="#000" points="208.3,306.0 214.9,304.5 214.9,307.5"/><line x1="223.2" y1="330.5" x2="322.0" y2="330.5"/><polyline fill="none" stroke-linejoin="round" points="234.2,326.7 222.2,330.5 234.2,334.3"/><polygon stroke="none" fill="#000" points="221.6,330.5 228.2,329.0 228.2,332.0"/><line x1="159.6" y1="414.1" x2="205.3" y2="414.1"/><polyline fill="none" stroke-linejoin="round" points="166.1,410.3 158.6,414.1 166.1,417.9"/><polygon stroke="none" fill="#000" points="158.0,414.1 163.8,412.6 163.8,415.6"/><line x1="138.2" y1="439.8" x2="201.7" y2="439.8"/><polyline fill="none" stroke-linejoin="round" points="144.7,436.0 137.2,439.8 144.7,443.6"/><polygon stroke="none" fill="#000" points="136.6,439.8 142.4,438.3 142.4,441.3"/><line x1="142.6" y1="464.7" x2="203.7" y2="464.7"/><polyline fill="none" stroke-linejoin="round" points="149.1,460.9 141.6,464.7 149.1,468.5"/><polygon stroke="none" fill="#000" points="141.0,464.7 146.8,463.2 146.8,466.2"/></g>
<g font-family="Liberation Serif, serif" fill="#111"><text transform="translate(308.08,103.00) scale(1.025,1)" font-size="21.7">Pr=2</text><text transform="translate(302.51,129.80) scale(0.972,1)" font-size="21.7">t=3.07</text><text transform="translate(303.21,155.60) scale(0.953,1)" font-size="21.7">t=6.12</text><text transform="translate(298.70,197.80) scale(0.996,1)" font-size="21.7">Pr=4</text><text transform="translate(293.61,223.90) scale(0.967,1)" font-size="21.7">t=3.63</text><text transform="translate(293.61,249.60) scale(0.944,1)" font-size="21.7">t=7.75</text><text transform="translate(353.30,283.90) scale(0.995,1)" font-size="22.3">Pr=6</text><text transform="translate(346.70,310.10) scale(0.983,1)" font-size="22.3">t=4.06</text><text transform="translate(347.11,336.30) scale(0.976,1)" font-size="22.3">t=8.66</text><text transform="translate(199.20,395.30) scale(0.986,1)" font-size="22.2">t=0.80</text><text transform="translate(205.59,421.60) scale(1.012,1)" font-size="21.7">Pr=2</text><text transform="translate(205.60,447.40) scale(0.994,1)" font-size="21.7">Pr=4</text><text transform="translate(205.60,473.70) scale(1.000,1)" font-size="21.7">Pr=6</text><text transform="translate(504.72,147.50) scale(1.060,1)" font-size="19.3">&#955;=0.30</text><text transform="translate(505.25,172.10) scale(1.002,1)" font-size="19.3">&#947;=0.10</text><text transform="translate(505.23,196.10) scale(1.039,1)" font-size="19.3">N=0.75</text><text transform="translate(504.96,220.50) scale(1.054,1)" font-size="19.3">Q=0.50</text><text transform="translate(505.22,243.90) scale(1.061,1)" font-size="19.3">Jul=0.80</text><text transform="translate(431.13,443.90) skewX(-7) scale(0.875,1)" font-size="37.5" font-style="italic">(a)</text><text transform="translate(378.33,578.80) scale(0.895,1)" font-size="21.5">y</text><text transform="translate(35.6,444.9) rotate(-90.9)" font-size="32.3">Velocity Profiles</text></g>
</svg>
</body></html>
